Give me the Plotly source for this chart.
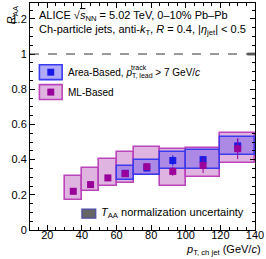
import plotly.graph_objects as go

# ---------------- data ----------------
ml_lo = [30, 40, 50, 60, 70, 85, 100, 120]
ml_hi = [40, 50, 60, 70, 85, 100, 120, 140]
ml_val = [0.220, 0.258, 0.296, 0.320, 0.360, 0.333, 0.367, 0.462]
ml_stat = [0.008, 0.010, 0.012, 0.014, 0.018, 0.025, 0.043, 0.059]
ml_sys_lo = [0.173, 0.220, 0.249, 0.267, 0.315, 0.249, 0.301, 0.380]
ml_sys_hi = [0.305, 0.352, 0.403, 0.446, 0.471, 0.463, 0.465, 0.550]

ab_lo = [60, 70, 85, 100, 120]
ab_hi = [70, 85, 100, 120, 140]
ab_val = [0.322, 0.352, 0.395, 0.400, 0.478]
ab_stat = [0.008, 0.012, 0.030, 0.020, 0.040]
ab_sys_lo = [0.282, 0.315, 0.346, 0.346, 0.428]
ab_sys_hi = [0.363, 0.395, 0.446, 0.456, 0.527]

taa_unc = 0.008
x_ticks = [20, 40, 60, 80, 100, 120, 140]
y_ticks = [0, 0.2, 0.4, 0.6, 0.8, 1.0, 1.2]
y_ticktext = ["0", "0.2", "0.4", "0.6", "0.8", "1", "1.2"]

FONT = "Liberation Sans, Arial, Helvetica, sans-serif"
ML_MK = "#990099"
ML_FILL = "#e0b4e0"
ML_LINE = "#bb44bb"
AB_MK = "#1a1ae6"
AB_FILL = "rgba(80,60,235,0.36)"
AB_LINE = "#3a3aee"

def centers(lo, hi):
    return [(a + b) / 2 for a, b in zip(lo, hi)]

def widths(lo, hi):
    return [b - a for a, b in zip(lo, hi)]

fig = go.Figure()

# ML systematic boxes
fig.add_trace(go.Bar(
    x=centers(ml_lo, ml_hi), width=widths(ml_lo, ml_hi),
    base=ml_sys_lo, y=[h - l for h, l in zip(ml_sys_hi, ml_sys_lo)],
    marker=dict(color=ML_FILL, line=dict(color=ML_LINE, width=1.6)),
    showlegend=False, hoverinfo="skip"))

# Area-based systematic boxes
fig.add_trace(go.Bar(
    x=centers(ab_lo, ab_hi), width=widths(ab_lo, ab_hi),
    base=ab_sys_lo, y=[h - l for h, l in zip(ab_sys_hi, ab_sys_lo)],
    marker=dict(color=AB_FILL, line=dict(color=AB_LINE, width=1.4)),
    showlegend=False, hoverinfo="skip"))

# Area-based points
fig.add_trace(go.Scatter(
    x=centers(ab_lo, ab_hi), y=ab_val, mode="markers",
    marker=dict(symbol="square", size=7, color=AB_MK),
    error_y=dict(type="data", array=ab_stat, color=AB_MK, thickness=1, width=0),
    showlegend=False))

# ML points
fig.add_trace(go.Scatter(
    x=centers(ml_lo, ml_hi), y=ml_val, mode="markers",
    marker=dict(symbol="square", size=7, color=ML_MK),
    error_y=dict(type="data", array=ml_stat, color=ML_MK, thickness=1, width=0),
    showlegend=False))

shapes = []
# reference line at 1
shapes.append(dict(type="line", xref="x", yref="y", x0=10, x1=136, y0=1, y1=1,
                   line=dict(color="#333333", width=1, dash="dash")))
# T_AA normalization box at unity
shapes.append(dict(type="rect", xref="x", yref="y", x0=135.5, x1=140,
                   y0=1 - taa_unc, y1=1 + taa_unc,
                   fillcolor="#555555", line=dict(width=0)))

# legend swatches (paper coords from pixel positions)
L, T, W, H = 29.5, 2.0, 227.5, 228.0
def px(x):
    return (x - L) / W
def py(y):
    return (T + H - y) / H

def swatch(x0, y0, x1, y1, fill, line, lw=1.6):
    shapes.append(dict(type="rect", xref="paper", yref="paper",
                       x0=px(x0), x1=px(x1), y0=py(y1), y1=py(y0),
                       fillcolor=fill, line=dict(color=line, width=lw)))

swatch(39, 64, 62, 79, "rgba(110,100,245,0.55)", AB_LINE)
swatch(47, 68, 54, 75, AB_MK, AB_MK, 0)
swatch(39, 84, 62, 99, ML_FILL, ML_LINE)
swatch(47, 88, 54, 95, ML_MK, ML_MK, 0)
swatch(82, 209, 96, 218, "#666666", "#4a4aa8", 1.2)

annotations = []
def text(x, y, s, size=11, xanchor="left", yanchor="middle", angle=0):
    annotations.append(dict(xref="paper", yref="paper", x=x, y=y, text=s,
                            showarrow=False, xanchor=xanchor, yanchor=yanchor,
                            textangle=angle,
                            font=dict(family=FONT, size=size, color="black")))

text(px(37), py(15),
     "ALICE √<span style='text-decoration:overline'><i>s</i></span><sub>NN</sub> = 5.02 TeV, 0–10% Pb–Pb", 11)
text(px(37), py(29),
     "Ch-particle jets, anti-<i>k</i><sub>T</sub>, <i>R</i> = 0.4, |<i>η</i><sub>jet</sub>| < 0.5", 11)
text(px(66), py(72),
     "Area-Based, <i>p</i><sub>T, lead</sub> > 7 GeV/<i>c</i>", 10)
text(px(129.5), py(67), "track", 7)
text(px(66), py(92), "ML-Based", 10)
text(px(99), py(213), "<i>T</i><sub>AA</sub> normalization uncertainty", 11)
text(px(11), py(2), "<i>R</i><sub>AA</sub>", 11, xanchor="center", yanchor="top", angle=-90)
text(px(265), py(250), "<i>p</i><sub>T, ch jet</sub> (GeV/<i>c</i>)", 11, xanchor="right")

fig.update_layout(
    width=266, height=259,
    margin=dict(l=29.5, r=9, t=2, b=29),
    plot_bgcolor="white", paper_bgcolor="white",
    barmode="overlay", bargap=0,
    font=dict(family=FONT, size=11, color="black"),
    shapes=shapes, annotations=annotations,
    xaxis=dict(range=[10, 140], tickvals=x_ticks, ticks="inside", ticklen=5,
               tickcolor="black", showline=True, linecolor="black", linewidth=1,
               mirror="ticks", showgrid=False, zeroline=False,
               tickfont=dict(size=11), ticklabeloverflow="allow",
               ticklabelstandoff=-5,
               minor=dict(dtick=5, tick0=0, ticks="inside", ticklen=3, tickcolor="black")),
    yaxis=dict(range=[0, 1.29], tickvals=y_ticks, ticktext=y_ticktext,
               ticks="inside", ticklen=5, tickcolor="black",
               showline=True, linecolor="black", linewidth=1, mirror="ticks",
               showgrid=False, zeroline=False, tickfont=dict(size=11),
               ticklabeloverflow="allow",
               minor=dict(dtick=0.05, tick0=0, ticks="inside", ticklen=3, tickcolor="black")),
)

fig.write_html("out.html", config={"displayModeBar": False},
               post_script="document.body.style.margin='0';document.body.style.overflow='hidden';")
